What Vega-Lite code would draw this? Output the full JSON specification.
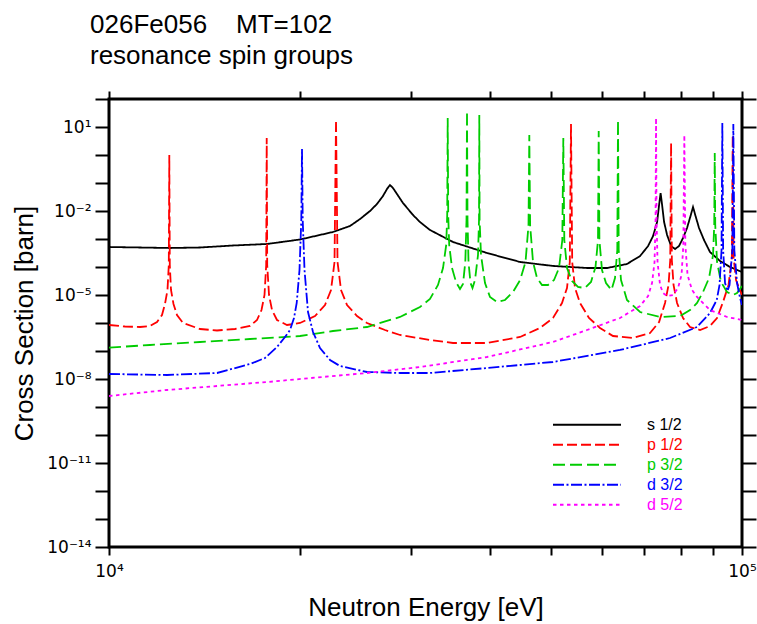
{
  "$schema": "https://vega.github.io/schema/vega-lite/v6.json",
  "width": 633,
  "height": 448,
  "padding": {"left": 109, "top": 99, "right": 15, "bottom": 77},
  "autosize": {"type": "none"},
  "background": "white",
  "title": {
    "text": ["026Fe056\u00a0\u00a0\u00a0\u00a0MT=102", "resonance spin groups"],
    "anchor": "start",
    "frame": "group",
    "dx": -19,
    "font": "Liberation Sans",
    "fontSize": 26,
    "fontWeight": "normal",
    "lineHeight": 31,
    "color": "black",
    "offset": 21
  },
  "config": {
    "view": {"stroke": "black", "strokeWidth": 3},
    "axis": {
      "domain": false,
      "grid": false,
      "tickColor": "black",
      "tickWidth": 2,
      "labelFont": "DejaVu Sans",
      "titleFont": "Liberation Sans",
      "labelColor": "black",
      "titleColor": "black",
      "titleFontWeight": "normal",
      "labelFontSize": 17,
      "titleFontSize": 26
    },
    "legend": {"labelFont": "Liberation Sans"}
  },
  "data": {
    "values": [
      {"s": "s 1/2", "e": 10000, "y": 5.18e-4},
      {"s": "s 1/2", "e": 11193, "y": 4.97e-4},
      {"s": "s 1/2", "e": 12486, "y": 4.77e-4},
      {"s": "s 1/2", "e": 13926, "y": 4.97e-4},
      {"s": "s 1/2", "e": 15700, "y": 5.86e-4},
      {"s": "s 1/2", "e": 17767, "y": 6.63e-4},
      {"s": "s 1/2", "e": 20036, "y": 9.60e-4},
      {"s": "s 1/2", "e": 22588, "y": 1.78e-3},
      {"s": "s 1/2", "e": 24030, "y": 2.91e-3},
      {"s": "s 1/2", "e": 24923, "y": 5.18e-3},
      {"s": "s 1/2", "e": 25843, "y": 1.0e-2},
      {"s": "s 1/2", "e": 26506, "y": 1.78e-2},
      {"s": "s 1/2", "e": 27092, "y": 3.43e-2},
      {"s": "s 1/2", "e": 27488, "y": 6.11e-2},
      {"s": "s 1/2", "e": 27790, "y": 8.48e-2},
      {"s": "s 1/2", "e": 28094, "y": 6.63e-2},
      {"s": "s 1/2", "e": 28505, "y": 4.05e-2},
      {"s": "s 1/2", "e": 29134, "y": 1.93e-2},
      {"s": "s 1/2", "e": 30217, "y": 7.20e-3},
      {"s": "s 1/2", "e": 30995, "y": 4.05e-3},
      {"s": "s 1/2", "e": 32141, "y": 2.10e-3},
      {"s": "s 1/2", "e": 34952, "y": 7.81e-4},
      {"s": "s 1/2", "e": 39553, "y": 3.16e-4},
      {"s": "s 1/2", "e": 44614, "y": 1.51e-4},
      {"s": "s 1/2", "e": 50285, "y": 1.09e-4},
      {"s": "s 1/2", "e": 56903, "y": 9.21e-5},
      {"s": "s 1/2", "e": 61200, "y": 9.21e-5},
      {"s": "s 1/2", "e": 65806, "y": 1.28e-4},
      {"s": "s 1/2", "e": 69024, "y": 2.47e-4},
      {"s": "s 1/2", "e": 71064, "y": 5.62e-4},
      {"s": "s 1/2", "e": 72370, "y": 1.28e-3},
      {"s": "s 1/2", "e": 73431, "y": 4.05e-3},
      {"s": "s 1/2", "e": 73966, "y": 1.64e-2},
      {"s": "s 1/2", "e": 74371, "y": 4.39e-2},
      {"s": "s 1/2", "e": 74778, "y": 1.64e-2},
      {"s": "s 1/2", "e": 75323, "y": 4.05e-3},
      {"s": "s 1/2", "e": 76149, "y": 1.39e-3},
      {"s": "s 1/2", "e": 77265, "y": 5.62e-4},
      {"s": "s 1/2", "e": 78399, "y": 4.39e-4},
      {"s": "s 1/2", "e": 79530, "y": 5.62e-4},
      {"s": "s 1/2", "e": 80697, "y": 1.09e-3},
      {"s": "s 1/2", "e": 81877, "y": 2.47e-3},
      {"s": "s 1/2", "e": 82926, "y": 6.63e-3},
      {"s": "s 1/2", "e": 83683, "y": 1.39e-2},
      {"s": "s 1/2", "e": 84448, "y": 6.63e-3},
      {"s": "s 1/2", "e": 85530, "y": 2.47e-3},
      {"s": "s 1/2", "e": 87093, "y": 9.21e-4},
      {"s": "s 1/2", "e": 89014, "y": 3.43e-4},
      {"s": "s 1/2", "e": 92315, "y": 1.64e-4},
      {"s": "s 1/2", "e": 95735, "y": 1.0e-4},
      {"s": "s 1/2", "e": 100000, "y": 6.63e-5},

      {"s": "p 1/2", "e": 10000, "y": 8.48e-7},
      {"s": "p 1/2", "e": 10599, "y": 7.50e-7},
      {"s": "p 1/2", "e": 11193, "y": 7.20e-7},
      {"s": "p 1/2", "e": 11608, "y": 7.81e-7},
      {"s": "p 1/2", "e": 11908, "y": 1.09e-6},
      {"s": "p 1/2", "e": 12126, "y": 1.93e-6},
      {"s": "p 1/2", "e": 12259, "y": 4.77e-6},
      {"s": "p 1/2", "e": 12371, "y": 1.51e-5},
      {"s": "p 1/2", "e": 12430, "y": 1.18e-4},
      {"s": "p 1/2", "e": 12453, "y": 1.0},
      {"s": "p 1/2", "e": 12475, "y": 1.18e-4},
      {"s": "p 1/2", "e": 12530, "y": 1.51e-5},
      {"s": "p 1/2", "e": 12644, "y": 4.77e-6},
      {"s": "p 1/2", "e": 12806, "y": 1.93e-6},
      {"s": "p 1/2", "e": 13089, "y": 1.0e-6},
      {"s": "p 1/2", "e": 13926, "y": 6.11e-7},
      {"s": "p 1/2", "e": 14812, "y": 5.40e-7},
      {"s": "p 1/2", "e": 15815, "y": 6.11e-7},
      {"s": "p 1/2", "e": 16701, "y": 7.81e-7},
      {"s": "p 1/2", "e": 17132, "y": 1.28e-6},
      {"s": "p 1/2", "e": 17415, "y": 2.91e-6},
      {"s": "p 1/2", "e": 17606, "y": 1.0e-5},
      {"s": "p 1/2", "e": 17715, "y": 1.18e-4},
      {"s": "p 1/2", "e": 17748, "y": 4.05},
      {"s": "p 1/2", "e": 17780, "y": 1.18e-4},
      {"s": "p 1/2", "e": 17897, "y": 1.0e-5},
      {"s": "p 1/2", "e": 18093, "y": 2.91e-6},
      {"s": "p 1/2", "e": 18425, "y": 1.28e-6},
      {"s": "p 1/2", "e": 19108, "y": 8.48e-7},
      {"s": "p 1/2", "e": 20036, "y": 1.0e-6},
      {"s": "p 1/2", "e": 21157, "y": 1.78e-6},
      {"s": "p 1/2", "e": 21941, "y": 4.39e-6},
      {"s": "p 1/2", "e": 22426, "y": 1.51e-5},
      {"s": "p 1/2", "e": 22712, "y": 1.51e-4},
      {"s": "p 1/2", "e": 22837, "y": 17.8},
      {"s": "p 1/2", "e": 22962, "y": 1.51e-4},
      {"s": "p 1/2", "e": 23256, "y": 1.51e-5},
      {"s": "p 1/2", "e": 23769, "y": 4.39e-6},
      {"s": "p 1/2", "e": 24649, "y": 1.78e-6},
      {"s": "p 1/2", "e": 25563, "y": 1.0e-6},
      {"s": "p 1/2", "e": 27291, "y": 5.62e-7},
      {"s": "p 1/2", "e": 28822, "y": 3.73e-7},
      {"s": "p 1/2", "e": 32141, "y": 2.47e-7},
      {"s": "p 1/2", "e": 34952, "y": 1.93e-7},
      {"s": "p 1/2", "e": 39553, "y": 1.93e-7},
      {"s": "p 1/2", "e": 44614, "y": 3.16e-7},
      {"s": "p 1/2", "e": 47960, "y": 6.63e-7},
      {"s": "p 1/2", "e": 50285, "y": 1.51e-6},
      {"s": "p 1/2", "e": 51956, "y": 5.18e-6},
      {"s": "p 1/2", "e": 52910, "y": 1.78e-5},
      {"s": "p 1/2", "e": 53451, "y": 1.51e-4},
      {"s": "p 1/2", "e": 53685, "y": 12.8},
      {"s": "p 1/2", "e": 53921, "y": 1.51e-4},
      {"s": "p 1/2", "e": 54473, "y": 1.78e-5},
      {"s": "p 1/2", "e": 55473, "y": 5.18e-6},
      {"s": "p 1/2", "e": 57319, "y": 1.51e-6},
      {"s": "p 1/2", "e": 59660, "y": 6.63e-7},
      {"s": "p 1/2", "e": 62550, "y": 3.43e-7},
      {"s": "p 1/2", "e": 67271, "y": 2.91e-7},
      {"s": "p 1/2", "e": 71569, "y": 4.39e-7},
      {"s": "p 1/2", "e": 73966, "y": 1.09e-6},
      {"s": "p 1/2", "e": 75581, "y": 5.18e-6},
      {"s": "p 1/2", "e": 76551, "y": 2.28e-5},
      {"s": "p 1/2", "e": 77025, "y": 1.78e-4},
      {"s": "p 1/2", "e": 77265, "y": 2.68},
      {"s": "p 1/2", "e": 77475, "y": 1.78e-4},
      {"s": "p 1/2", "e": 77956, "y": 2.28e-5},
      {"s": "p 1/2", "e": 78955, "y": 5.18e-6},
      {"s": "p 1/2", "e": 80697, "y": 1.51e-6},
      {"s": "p 1/2", "e": 82776, "y": 7.20e-7},
      {"s": "p 1/2", "e": 85844, "y": 5.62e-7},
      {"s": "p 1/2", "e": 89014, "y": 7.81e-7},
      {"s": "p 1/2", "e": 91319, "y": 1.51e-6},
      {"s": "p 1/2", "e": 93334, "y": 5.62e-6},
      {"s": "p 1/2", "e": 95221, "y": 2.28e-5},
      {"s": "p 1/2", "e": 96370, "y": 2.10e-4},
      {"s": "p 1/2", "e": 96686, "y": 5.18},
      {"s": "p 1/2", "e": 97002, "y": 2.10e-4},
      {"s": "p 1/2", "e": 97853, "y": 3.43e-5},
      {"s": "p 1/2", "e": 98927, "y": 1.78e-5},
      {"s": "p 1/2", "e": 100000, "y": 1.0e-5},

      {"s": "p 3/2", "e": 10000, "y": 1.33e-7},
      {"s": "p 3/2", "e": 11608, "y": 1.64e-7},
      {"s": "p 3/2", "e": 13926, "y": 2.10e-7},
      {"s": "p 3/2", "e": 16701, "y": 2.68e-7},
      {"s": "p 3/2", "e": 20036, "y": 3.43e-7},
      {"s": "p 3/2", "e": 22588, "y": 5.18e-7},
      {"s": "p 3/2", "e": 25563, "y": 7.20e-7},
      {"s": "p 3/2", "e": 28822, "y": 1.64e-6},
      {"s": "p 3/2", "e": 30995, "y": 3.73e-6},
      {"s": "p 3/2", "e": 32141, "y": 7.20e-6},
      {"s": "p 3/2", "e": 33094, "y": 2.28e-5},
      {"s": "p 3/2", "e": 33702, "y": 9.21e-5},
      {"s": "p 3/2", "e": 34097, "y": 6.11e-4},
      {"s": "p 3/2", "e": 34221, "y": 7.20e-3},
      {"s": "p 3/2", "e": 34283, "y": 21.0},
      {"s": "p 3/2", "e": 34346, "y": 7.20e-3},
      {"s": "p 3/2", "e": 34471, "y": 6.11e-4},
      {"s": "p 3/2", "e": 34823, "y": 9.21e-5},
      {"s": "p 3/2", "e": 35334, "y": 2.91e-5},
      {"s": "p 3/2", "e": 35852, "y": 1.64e-5},
      {"s": "p 3/2", "e": 36245, "y": 2.47e-5},
      {"s": "p 3/2", "e": 36550, "y": 1.51e-4},
      {"s": "p 3/2", "e": 36710, "y": 4.77e-3},
      {"s": "p 3/2", "e": 36777, "y": 37.3},
      {"s": "p 3/2", "e": 36844, "y": 4.77e-3},
      {"s": "p 3/2", "e": 36978, "y": 1.51e-4},
      {"s": "p 3/2", "e": 37248, "y": 2.68e-5},
      {"s": "p 3/2", "e": 37520, "y": 1.78e-5},
      {"s": "p 3/2", "e": 37863, "y": 3.43e-5},
      {"s": "p 3/2", "e": 38278, "y": 2.68e-4},
      {"s": "p 3/2", "e": 38418, "y": 4.77e-3},
      {"s": "p 3/2", "e": 38459, "y": 26.8},
      {"s": "p 3/2", "e": 38501, "y": 4.77e-3},
      {"s": "p 3/2", "e": 38698, "y": 2.68e-4},
      {"s": "p 3/2", "e": 39265, "y": 2.68e-5},
      {"s": "p 3/2", "e": 39986, "y": 8.48e-6},
      {"s": "p 3/2", "e": 41018, "y": 5.62e-6},
      {"s": "p 3/2", "e": 42229, "y": 6.63e-6},
      {"s": "p 3/2", "e": 43476, "y": 1.28e-5},
      {"s": "p 3/2", "e": 44614, "y": 3.43e-5},
      {"s": "p 3/2", "e": 45499, "y": 1.51e-4},
      {"s": "p 3/2", "e": 45998, "y": 3.16e-3},
      {"s": "p 3/2", "e": 46132, "y": 5.18},
      {"s": "p 3/2", "e": 46266, "y": 3.16e-3},
      {"s": "p 3/2", "e": 46757, "y": 1.51e-4},
      {"s": "p 3/2", "e": 47442, "y": 4.05e-5},
      {"s": "p 3/2", "e": 48313, "y": 2.28e-5},
      {"s": "p 3/2", "e": 49380, "y": 2.28e-5},
      {"s": "p 3/2", "e": 50469, "y": 3.43e-5},
      {"s": "p 3/2", "e": 51396, "y": 9.21e-5},
      {"s": "p 3/2", "e": 52016, "y": 9.21e-4},
      {"s": "p 3/2", "e": 52206, "y": 4.05},
      {"s": "p 3/2", "e": 52396, "y": 9.21e-4},
      {"s": "p 3/2", "e": 52910, "y": 9.21e-5},
      {"s": "p 3/2", "e": 53881, "y": 3.16e-5},
      {"s": "p 3/2", "e": 55070, "y": 1.93e-5},
      {"s": "p 3/2", "e": 56489, "y": 1.78e-5},
      {"s": "p 3/2", "e": 57736, "y": 2.91e-5},
      {"s": "p 3/2", "e": 58690, "y": 1.0e-4},
      {"s": "p 3/2", "e": 59226, "y": 9.21e-4},
      {"s": "p 3/2", "e": 59377, "y": 7.20},
      {"s": "p 3/2", "e": 59528, "y": 9.21e-4},
      {"s": "p 3/2", "e": 60094, "y": 7.81e-5},
      {"s": "p 3/2", "e": 60975, "y": 2.68e-5},
      {"s": "p 3/2", "e": 62207, "y": 1.51e-5},
      {"s": "p 3/2", "e": 63005, "y": 4.05e-5},
      {"s": "p 3/2", "e": 63534, "y": 4.05e-4},
      {"s": "p 3/2", "e": 63696, "y": 17.8},
      {"s": "p 3/2", "e": 63859, "y": 4.05e-4},
      {"s": "p 3/2", "e": 64395, "y": 3.43e-5},
      {"s": "p 3/2", "e": 65806, "y": 6.63e-6},
      {"s": "p 3/2", "e": 69024, "y": 2.47e-6},
      {"s": "p 3/2", "e": 74219, "y": 1.64e-6},
      {"s": "p 3/2", "e": 79811, "y": 1.78e-6},
      {"s": "p 3/2", "e": 82776, "y": 2.91e-6},
      {"s": "p 3/2", "e": 84912, "y": 5.18e-6},
      {"s": "p 3/2", "e": 86786, "y": 1.28e-5},
      {"s": "p 3/2", "e": 88701, "y": 4.05e-5},
      {"s": "p 3/2", "e": 90001, "y": 2.68e-4},
      {"s": "p 3/2", "e": 90396, "y": 3.16e-3},
      {"s": "p 3/2", "e": 90561, "y": 1.18},
      {"s": "p 3/2", "e": 90726, "y": 3.16e-3},
      {"s": "p 3/2", "e": 91319, "y": 1.51e-4},
      {"s": "p 3/2", "e": 92657, "y": 2.91e-5},
      {"s": "p 3/2", "e": 94703, "y": 1.28e-5},
      {"s": "p 3/2", "e": 96792, "y": 1.0e-5},
      {"s": "p 3/2", "e": 98210, "y": 1.18e-5},
      {"s": "p 3/2", "e": 100000, "y": 2.10e-5},

      {"s": "d 3/2", "e": 10000, "y": 1.51e-8},
      {"s": "d 3/2", "e": 12349, "y": 1.39e-8},
      {"s": "d 3/2", "e": 14812, "y": 1.64e-8},
      {"s": "d 3/2", "e": 16701, "y": 3.43e-8},
      {"s": "d 3/2", "e": 17638, "y": 5.62e-8},
      {"s": "d 3/2", "e": 18425, "y": 1.39e-7},
      {"s": "d 3/2", "e": 18969, "y": 3.16e-7},
      {"s": "d 3/2", "e": 19317, "y": 5.62e-7},
      {"s": "d 3/2", "e": 19600, "y": 1.51e-6},
      {"s": "d 3/2", "e": 19794, "y": 5.18e-6},
      {"s": "d 3/2", "e": 19996, "y": 7.81e-5},
      {"s": "d 3/2", "e": 20128, "y": 4.77e-3},
      {"s": "d 3/2", "e": 20179, "y": 1.64},
      {"s": "d 3/2", "e": 20231, "y": 4.77e-3},
      {"s": "d 3/2", "e": 20364, "y": 7.81e-5},
      {"s": "d 3/2", "e": 20625, "y": 2.47e-6},
      {"s": "d 3/2", "e": 21003, "y": 4.77e-7},
      {"s": "d 3/2", "e": 21545, "y": 1.28e-7},
      {"s": "d 3/2", "e": 22344, "y": 4.77e-8},
      {"s": "d 3/2", "e": 23171, "y": 2.91e-8},
      {"s": "d 3/2", "e": 25563, "y": 1.78e-8},
      {"s": "d 3/2", "e": 28822, "y": 1.64e-8},
      {"s": "d 3/2", "e": 32141, "y": 1.64e-8},
      {"s": "d 3/2", "e": 39553, "y": 2.47e-8},
      {"s": "d 3/2", "e": 50285, "y": 4.05e-8},
      {"s": "d 3/2", "e": 64161, "y": 1.09e-7},
      {"s": "d 3/2", "e": 76969, "y": 2.91e-7},
      {"s": "d 3/2", "e": 84912, "y": 7.20e-7},
      {"s": "d 3/2", "e": 89014, "y": 2.28e-6},
      {"s": "d 3/2", "e": 91218, "y": 6.63e-6},
      {"s": "d 3/2", "e": 92153, "y": 2.28e-5},
      {"s": "d 3/2", "e": 92826, "y": 4.05e-4},
      {"s": "d 3/2", "e": 93096, "y": 13.9},
      {"s": "d 3/2", "e": 93368, "y": 4.05e-4},
      {"s": "d 3/2", "e": 94015, "y": 2.68e-5},
      {"s": "d 3/2", "e": 94874, "y": 1.39e-5},
      {"s": "d 3/2", "e": 95567, "y": 2.28e-5},
      {"s": "d 3/2", "e": 96546, "y": 4.05e-4},
      {"s": "d 3/2", "e": 96897, "y": 12.8},
      {"s": "d 3/2", "e": 97250, "y": 4.05e-4},
      {"s": "d 3/2", "e": 98210, "y": 2.68e-5},
      {"s": "d 3/2", "e": 99286, "y": 7.81e-6},
      {"s": "d 3/2", "e": 100000, "y": 4.39e-6},

      {"s": "d 5/2", "e": 10000, "y": 2.47e-9},
      {"s": "d 5/2", "e": 12349, "y": 4.05e-9},
      {"s": "d 5/2", "e": 17767, "y": 7.81e-9},
      {"s": "d 5/2", "e": 25563, "y": 1.64e-8},
      {"s": "d 5/2", "e": 30995, "y": 2.68e-8},
      {"s": "d 5/2", "e": 39553, "y": 6.11e-8},
      {"s": "d 5/2", "e": 50285, "y": 2.10e-7},
      {"s": "d 5/2", "e": 56903, "y": 5.62e-7},
      {"s": "d 5/2", "e": 64161, "y": 1.51e-6},
      {"s": "d 5/2", "e": 69024, "y": 4.05e-6},
      {"s": "d 5/2", "e": 71064, "y": 9.21e-6},
      {"s": "d 5/2", "e": 72091, "y": 2.68e-5},
      {"s": "d 5/2", "e": 72750, "y": 1.51e-4},
      {"s": "d 5/2", "e": 73015, "y": 4.77e-3},
      {"s": "d 5/2", "e": 73148, "y": 21.0},
      {"s": "d 5/2", "e": 73281, "y": 4.77e-3},
      {"s": "d 5/2", "e": 73548, "y": 1.51e-4},
      {"s": "d 5/2", "e": 74219, "y": 2.28e-5},
      {"s": "d 5/2", "e": 75034, "y": 1.18e-5},
      {"s": "d 5/2", "e": 76149, "y": 9.21e-6},
      {"s": "d 5/2", "e": 77814, "y": 1.0e-5},
      {"s": "d 5/2", "e": 79242, "y": 1.78e-5},
      {"s": "d 5/2", "e": 80257, "y": 5.18e-5},
      {"s": "d 5/2", "e": 80785, "y": 6.11e-4},
      {"s": "d 5/2", "e": 81079, "y": 5.18},
      {"s": "d 5/2", "e": 81374, "y": 6.11e-4},
      {"s": "d 5/2", "e": 82028, "y": 5.18e-5},
      {"s": "d 5/2", "e": 83382, "y": 1.51e-5},
      {"s": "d 5/2", "e": 84912, "y": 8.48e-6},
      {"s": "d 5/2", "e": 89014, "y": 2.91e-6},
      {"s": "d 5/2", "e": 94703, "y": 1.64e-6},
      {"s": "d 5/2", "e": 100000, "y": 1.28e-6}
    ]
  },
  "layer": [
    {
      "mark": {"type": "line", "strokeWidth": 1.8, "clip": true},
      "encoding": {
        "x": {
          "field": "e", "type": "quantitative",
          "scale": {"type": "log", "domain": [10000, 100000], "nice": false},
          "axis": {
            "orient": "bottom",
            "title": "Neutron Energy [eV]",
            "values": [10000, 20000, 30000, 40000, 50000, 60000, 70000, 80000, 90000, 100000],
            "labelExpr": "datum.value == 10000 ? '10\u2074' : datum.value == 100000 ? '10\u2075' : ''",
            "tickSize": 8,
            "labelPadding": 8,
            "labelAlign": "center",
            "labelDx": 4,
            "titlePadding": 15
          }
        },
        "y": {
          "field": "y", "type": "quantitative",
          "scale": {"type": "log", "domain": [1e-14, 100], "nice": false},
          "axis": {
            "orient": "left",
            "title": "Cross Section [barn]",
            "values": [1e-14, 1e-13, 1e-12, 1e-11, 1e-10, 1e-9, 1e-8, 1e-7, 1e-6, 1e-5, 1e-4, 1e-3, 1e-2, 1e-1, 1, 10, 100],
            "labelExpr": "round(log(datum.value)/LN10) == 1 ? '10\u00b9' : round(log(datum.value)/LN10) == -2 ? '10\u207b\u00b2' : round(log(datum.value)/LN10) == -5 ? '10\u207b\u2075' : round(log(datum.value)/LN10) == -8 ? '10\u207b\u2078' : round(log(datum.value)/LN10) == -11 ? '10\u207b\u00b9\u00b9' : round(log(datum.value)/LN10) == -14 ? '10\u207b\u00b9\u2074' : ''",
            "tickSize": 14,
            "labelPadding": 4,
            "titlePadding": 9
          }
        },
        "color": {
          "field": "s", "type": "nominal",
          "scale": {
            "domain": ["s 1/2", "p 1/2", "p 3/2", "d 3/2", "d 5/2"],
            "range": ["#000000", "#ff0000", "#00cc00", "#0000ff", "#ff00ff"]
          },
          "legend": {
            "title": null,
            "orient": "none",
            "legendX": 443,
            "legendY": 316,
            "padding": 0,
            "symbolType": "stroke",
            "symbolSize": 4624,
            "symbolStrokeWidth": 2,
            "labelFontSize": 16,
            "labelOffset": 25,
            "clipHeight": 19.4,
            "rowPadding": 0,
            "encode": {"labels": {"update": {"fill": {"signal": "scale('color', datum.value)"}}}}
          }
        },
        "strokeDash": {
          "field": "s", "type": "nominal",
          "scale": {
            "domain": ["s 1/2", "p 1/2", "p 3/2", "d 3/2", "d 5/2"],
            "range": [[1, 0], [10, 4], [12, 5], [11, 2.5, 2, 2.5], [3.5, 3.5]]
          },
          "legend": null
        }
      }
    },
    {
      "mark": {"type": "line", "strokeOpacity": 0},
      "encoding": {
        "x": {
          "field": "e", "type": "quantitative",
          "axis": {
            "orient": "top",
            "title": null,
            "labels": false,
            "values": [10000, 20000, 30000, 40000, 50000, 60000, 70000, 80000, 90000, 100000],
            "tickSize": 8
          }
        },
        "y": {
          "field": "y", "type": "quantitative",
          "axis": {
            "orient": "right",
            "title": null,
            "labels": false,
            "values": [1e-14, 1e-13, 1e-12, 1e-11, 1e-10, 1e-9, 1e-8, 1e-7, 1e-6, 1e-5, 1e-4, 1e-3, 1e-2, 1e-1, 1, 10, 100],
            "tickSize": 14
          }
        }
      }
    }
  ],
  "resolve": {"axis": {"x": "independent", "y": "independent"}}
}
